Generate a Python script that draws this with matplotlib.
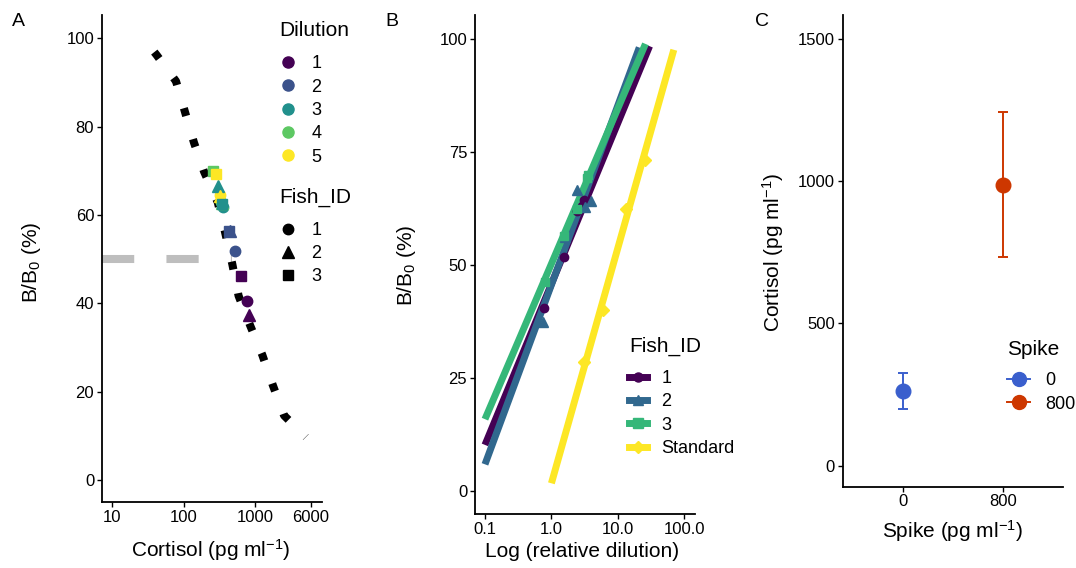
import numpy as np
import matplotlib
matplotlib.use("Agg")
import matplotlib.pyplot as plt
from matplotlib.lines import Line2D
from matplotlib.ticker import FixedLocator, FixedFormatter, NullLocator

plt.rcParams['font.family'] = ['Liberation Sans', 'DejaVu Sans']
plt.rcParams['mathtext.fontset'] = 'custom'
plt.rcParams['mathtext.rm'] = 'Liberation Sans'
plt.rcParams['mathtext.it'] = 'Liberation Sans:italic'
plt.rcParams['mathtext.default'] = 'rm'

# ---- data ----
# standard curve path (fitted 4PL) and the 50% binding cortisol value
curve_cortisol = [39, 42.2, 78.5, 105, 140, 194, 301, 380, 481, 589, 859, 1265, 1770, 2547, 5150]
curve_bb0 = [96.9, 96.2, 90.3, 83.3, 76.4, 69.8, 62.9, 56.2, 48.9, 41.7, 34.9, 28.3, 21.5, 14.6, 9.7]
ec50 = 480

# serial dilutions of the three pooled samples
fish_id = [1] * 5 + [2] * 5 + [3] * 5
dilution = [1, 2, 3, 4, 5] * 3
cortisol = [766, 525, 353, 334, 320,
            832, 447, 307, 340, 327,
            631, 437, 345, 261, 282]
bb0 = [40.6, 51.9, 61.9, 63.0, 64.5,
       37.4, 56.3, 66.6, 62.8, 64.2,
       46.2, 56.4, 62.5, 69.9, 69.2]
rel_dilution = [0.77, 1.56, 2.39, 2.9, 3.11,
                0.75, 1.6, 2.39, 3.16, 3.89,
                0.80, 1.56, 2.4, 3.57, 3.4]

# standard points on the parallelism plot
std_rel = [3.11, 6.0, 13.2, 25.5]
std_bb0 = [28.5, 40.1, 62.5, 73.2]

# linear fits (start / end of each fitted line)
fit_groups = ['1', '2', '3', 'Standard']
fit_x0 = [0.1, 0.1, 0.1, 1.0]
fit_x1 = [30, 21, 26, 69.5]
fit_y0 = [10.2, 5.9, 15.9, 1.7]
fit_y1 = [98.5, 98.2, 99.0, 97.7]

# spike recovery
spike = ['0', '800']
spike_mean = [261, 987]
spike_lo = [201, 734]
spike_hi = [325, 1244]

# ---- styling ----
dil_colors = ['#440154', '#3B528B', '#21908C', '#5DC863', '#FDE725']
fish_colors = ['#440154', '#31688E', '#35B779', '#FDE725']
fish_markers = {1: 'o', 2: '^', 3: 's'}
marker_sizes = {1: 7.5, 2: 8.0, 3: 7.0}
spike_colors = ['#3A5FCD', '#CD3700']

W, H = 1076, 568
fig = plt.figure(figsize=(W / 100, H / 100), dpi=100)


def px_axes(left, top, right, bottom):
    return fig.add_axes([left / W, 1 - bottom / H, (right - left) / W, (bottom - top) / H])


def style(ax):
    for s in ['top', 'right']:
        ax.spines[s].set_visible(False)
    for s in ['left', 'bottom']:
        ax.spines[s].set_linewidth(1.3)
    ax.tick_params(direction='out', length=3.6, width=1.0, pad=2.0, labelsize=12, colors='black')


def label_xy(ax, px, py):
    # pixel position -> axes fraction for label placement
    inv = ax.transAxes.inverted()
    return inv.transform(fig.transFigure.transform((px / W, 1 - py / H)))


def add_legend(handles, labels, title, px, py, hl, title_gap):
    leg = fig.legend(handles, labels, title=title, loc='upper left',
                     bbox_to_anchor=(px / W, 1 - py / H), frameon=False,
                     borderpad=0, borderaxespad=0, fontsize=13, title_fontsize=15,
                     handlelength=hl, handletextpad=0.8, labelspacing=0.35,
                     alignment='left')
    leg._legend_box.sep = title_gap
    return leg


unit_lbl = r'(pg ml$^{-1}$)'

# ---- A: standard curve with sample dilutions ----
axA = px_axes(102, 15, 322, 502)
style(axA)
axA.set_xscale('log')
axA.plot([7.24, ec50], [50, 50], color='#BEBEBE', lw=5.8, linestyle=(0, (4, 4)),
         solid_capstyle='butt', dash_capstyle='butt', zorder=1)
axA.plot(curve_cortisol, curve_bb0, color='black', lw=5.8, linestyle=(0, (1, 3)),
         dash_capstyle='butt', zorder=2)
for f, d, x, y in zip(fish_id, dilution, cortisol, bb0):
    axA.plot(x, y, linestyle='none', marker=fish_markers[f], ms=marker_sizes[f],
             color=dil_colors[d - 1], mec=dil_colors[d - 1], zorder=3)
axA.set_xlim(7.24, 8650)
axA.set_ylim(-5, 105.3)
axA.xaxis.set_major_locator(FixedLocator([10, 100, 1000, 6000]))
axA.xaxis.set_major_formatter(FixedFormatter(['10', '100', '1000', '6000']))
axA.xaxis.set_minor_locator(NullLocator())
axA.set_yticks([0, 20, 40, 60, 80, 100])
axA.set_xlabel('Cortisol ' + unit_lbl, fontsize=15)
axA.set_ylabel(r'B/B$_0$ (%)', fontsize=15)
axA.xaxis.set_label_coords(*label_xy(axA, 211, 537))
axA.yaxis.set_label_coords(*label_xy(axA, 43, 262))

h_dil = [Line2D([], [], ls='none', marker='o', ms=8, color=c) for c in dil_colors]
add_legend(h_dil, ['1', '2', '3', '4', '5'], 'Dilution', 279, 21, 1.0, 11)
h_fish = [Line2D([], [], ls='none', marker=fish_markers[k], ms=marker_sizes[k], color='black')
          for k in [1, 2, 3]]
add_legend(h_fish, ['1', '2', '3'], 'Fish_ID', 279, 188, 1.0, 10.5)

# ---- B: parallelism ----
axB = px_axes(475, 15, 695, 514)
style(axB)
axB.set_xscale('log')
for i, g in enumerate(fit_groups):
    axB.plot([fit_x0[i], fit_x1[i]], [fit_y0[i], fit_y1[i]], color=fish_colors[i],
             lw=5.0, solid_capstyle='butt', zorder=2)
for f, x, y in zip(fish_id, rel_dilution, bb0):
    axB.plot(x, y, linestyle='none', marker=fish_markers[f], ms=marker_sizes[f] - 1.5,
             color=fish_colors[f - 1], zorder=3)
axB.plot(std_rel, std_bb0, linestyle='none', marker='D', ms=6, color=fish_colors[3], zorder=3)
axB.set_xlim(0.0708, 144.8)
axB.set_ylim(-5.1, 105.4)
axB.xaxis.set_major_locator(FixedLocator([0.1, 1, 10, 100]))
axB.xaxis.set_major_formatter(FixedFormatter(['0.1', '1.0', '10.0', '100.0']))
axB.xaxis.set_minor_locator(NullLocator())
axB.set_yticks([0, 25, 50, 75, 100])
axB.set_xlabel('Log (relative dilution)', fontsize=15)
axB.set_ylabel(r'B/B$_0$ (%)', fontsize=15)
axB.xaxis.set_label_coords(*label_xy(axB, 582, 542))
axB.yaxis.set_label_coords(*label_xy(axB, 418, 265))

h_fit = [Line2D([], [], color=fish_colors[i], lw=5.0, marker=m, ms=6.5)
         for i, m in enumerate(['o', '^', 's', 'D'])]
add_legend(h_fit, fit_groups, 'Fish_ID', 629, 337, 1.0, 10)

# ---- C: spike recovery ----
axC = px_axes(842.7, 15, 1063.3, 486.7)
style(axC)
xpos = np.arange(1, len(spike) + 1)
for i in range(len(spike)):
    axC.errorbar(xpos[i], spike_mean[i],
                 yerr=[[spike_mean[i] - spike_lo[i]], [spike_hi[i] - spike_mean[i]]],
                 fmt='o', ms=10.5, color=spike_colors[i], ecolor=spike_colors[i],
                 elinewidth=1.4, capsize=3.8, capthick=1.4)
axC.set_xlim(0.4, 2.6)
axC.set_ylim(-74, 1585)
axC.set_xticks(xpos)
axC.set_xticklabels(spike)
axC.set_yticks([0, 500, 1000, 1500])
axC.set_xlabel('Spike ' + unit_lbl, fontsize=15)
axC.set_ylabel('Cortisol ' + unit_lbl, fontsize=15)
axC.xaxis.set_label_coords(*label_xy(axC, 953, 518))
axC.yaxis.set_label_coords(*label_xy(axC, 786, 252))

h_sp = [Line2D([], [], color=c, lw=1.4, marker='o', ms=10) for c in spike_colors]
add_legend(h_sp, spike, 'Spike', 1007, 340, 1.3, 9.5)

# panel tags
for tag, x in zip(['A', 'B', 'C'], [18, 392, 762]):
    fig.text(x / W, 1 - 22 / H, tag, fontsize=14, ha='center', va='center')

fig.savefig('out.png', dpi=100)
